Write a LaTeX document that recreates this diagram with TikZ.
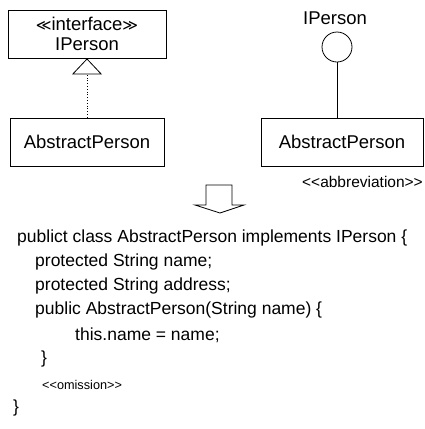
\documentclass[tikz,border=0pt]{standalone}
\usepackage{fontspec}
\setmainfont{Liberation Sans}
\newfontfamily\symfont{DejaVu Sans}
\usetikzlibrary{arrows.meta}
\newcommand{\lt}{<\kern0pt}
\newcommand{\gt}{>\kern0pt}
\begin{document}
\begin{tikzpicture}[x=1pt,y=-1pt,
  box/.style={draw,line width=0.8pt,rectangle,inner sep=0pt,align=center},
  boxfont/.style={font=\fontsize{18.5}{22}\selectfont},
  codefont/.style={font=\fontsize{17.5}{20}\selectfont},
  codeline/.style={codefont,anchor=west,inner sep=0pt},
  line/.style={line width=0.8pt}]
\useasboundingbox (0,0) rectangle (424,429);
% left UML
\node[box,boxfont,minimum width=158pt,minimum height=48pt] (iface) at (87,34)
  {{\symfont\fontsize{15}{16}\selectfont ≪}interface{\symfont\fontsize{15}{16}\selectfont ≫}\\[-2pt]IPerson};
\node[box,boxfont,minimum width=154pt,minimum height=48pt] (abs1) at (87,142) {AbstractPerson};
\draw[line,dotted,-{Triangle[open,length=16pt,width=30pt,line width=0.8pt]}] (abs1.north) -- (iface.south);
% right lollipop
\node[draw,line width=0.8pt,circle,minimum size=30pt,inner sep=0pt] (circ) at (337,47) {};
\node[boxfont,inner sep=0pt] (ilabel) at (335,18) {IPerson};
\node[box,boxfont,minimum width=162pt,minimum height=48pt] (abs2) at (342,142) {AbstractPerson};
\draw[line] (circ.south) -- (circ.south |- abs2.north);
\node[font=\fontsize{15.5}{18}\selectfont,anchor=east,inner sep=0pt] (abbr) at (423,182) {\lt\lt abbreviation\gt\gt};
% block arrow
\draw[line] (206,185) -- (232,185) -- (232,205) -- (244,205) -- (220,213) -- (195,205) -- (206,205) -- cycle;
% code
\node[codeline] (c1) at (17,238) {publict class AbstractPerson implements IPerson \{};
\node[codeline] (c2) at (35,262) {protected String name;};
\node[codeline] (c3) at (35,286) {protected String address;};
\node[codeline] (c4) at (35,310) {public AbstractPerson(String name) \{};
\node[codeline] (c5) at (75,335) {this.name = name;};
\node[codeline] (c6) at (41,359) {\}};
\node[font=\fontsize{12.7}{15}\selectfont,anchor=west,inner sep=0pt] (c7) at (42,385) {\lt\lt omission\gt\gt};
\node[codeline] (c8) at (13,408) {\}};
\end{tikzpicture}
\end{document}
